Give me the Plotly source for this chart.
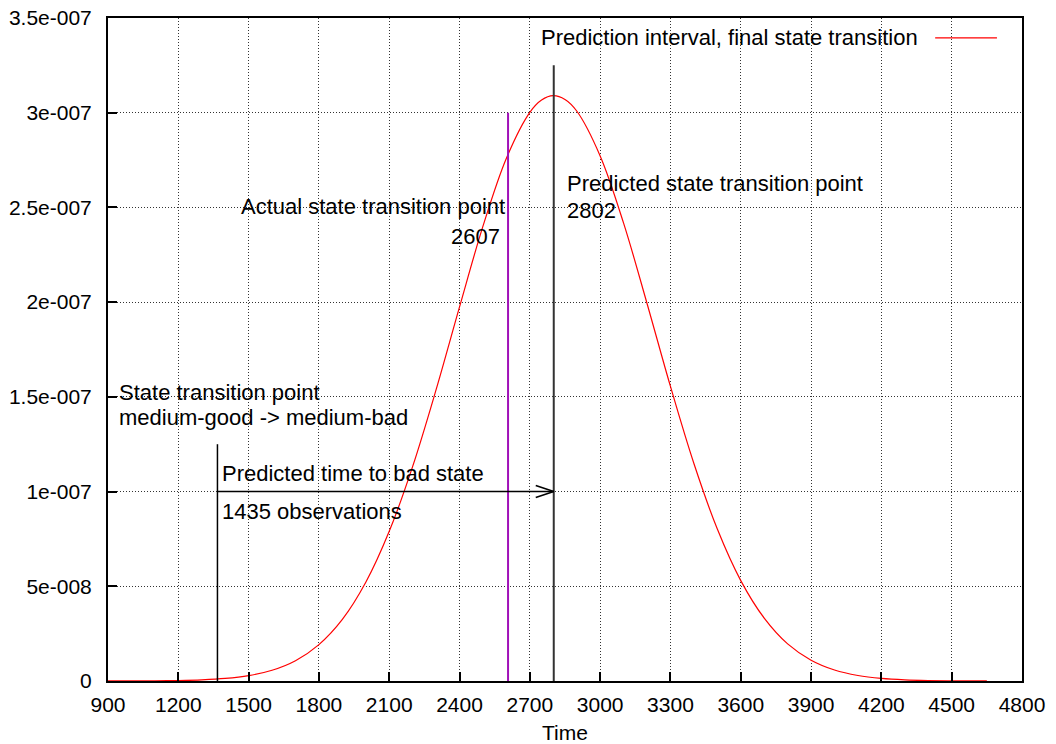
import plotly.graph_objects as go

# ---- data ----
time_x = [900, 1000, 1100, 1200, 1300, 1400, 1500, 1600, 1700, 1800, 1900, 2000,
          2100, 2200, 2300, 2400, 2500, 2600, 2700, 2750, 2800, 2850, 2900, 3000,
          3100, 3200, 3300, 3400, 3500, 3600, 3700, 3800, 3900, 4000, 4100, 4200,
          4300, 4400, 4500, 4600, 4650]
density_y = [1.4e-11, 3.9e-11, 1.0e-10, 2.5e-10, 6.0e-10, 1.34e-9, 2.83e-9, 5.66e-9,
             1.07e-8, 1.92e-8, 3.25e-8, 5.21e-8, 7.90e-8, 1.133e-7, 1.538e-7, 1.975e-7,
             2.401e-7, 2.760e-7, 3.002e-7, 3.067e-7, 3.090e-7, 3.070e-7, 3.009e-7,
             2.772e-7, 2.417e-7, 1.993e-7, 1.555e-7, 1.148e-7, 8.02e-8, 5.30e-8,
             3.32e-8, 1.96e-8, 1.10e-8, 5.82e-9, 2.91e-9, 1.38e-9, 6.2e-10, 2.6e-10,
             1.1e-10, 4.0e-11, 2.4e-11]
series_name = "Prediction interval, final state transition"

state_change_x = 1367          # medium-good -> medium-bad
actual_x = 2607                # actual state transition
predicted_x = 2802             # predicted state transition
marker_tops = [1.25e-7, 3.0e-7, 3.25e-7]
arrow_y = 1.0e-7
observations = 1435

x_ticks = [900, 1200, 1500, 1800, 2100, 2400, 2700, 3000, 3300, 3600, 3900, 4200, 4500, 4800]
y_ticks = [0, 5e-8, 1e-7, 1.5e-7, 2e-7, 2.5e-7, 3e-7, 3.5e-7]
y_tick_labels = ["0", "5e-008", "1e-007", "1.5e-007", "2e-007", "2.5e-007", "3e-007", "3.5e-007"]

FONT = "Liberation Sans, Arial, Helvetica, sans-serif"
FS = 21
AFS = 22
PURPLE = "#a010b8"

fig = go.Figure()
fig.add_trace(go.Scatter(x=time_x, y=density_y, mode="lines", name=series_name,
                         line=dict(color="#ff0000", width=1.2, shape="spline"),
                         showlegend=False, hoverinfo="x+y"))

shapes = [
    dict(type="line", xref="x", yref="y", x0=state_change_x, x1=state_change_x,
         y0=0, y1=marker_tops[0], line=dict(color="black", width=1.5)),
    dict(type="line", xref="x", yref="y", x0=actual_x, x1=actual_x,
         y0=0, y1=marker_tops[1], line=dict(color=PURPLE, width=2)),
    dict(type="line", xref="x", yref="y", x0=predicted_x, x1=predicted_x,
         y0=0, y1=marker_tops[2], line=dict(color="#333333", width=2)),
    # arrow shaft
    dict(type="line", xref="x", yref="y", x0=state_change_x, x1=predicted_x,
         y0=arrow_y, y1=arrow_y, line=dict(color="black", width=1.6)),
    # arrow head (open ">" style), sized in pixels at the arrow tip
    dict(type="line", xref="x", yref="y", xsizemode="pixel", ysizemode="pixel",
         xanchor=predicted_x, yanchor=arrow_y, x0=-18, y0=6, x1=0, y1=0,
         line=dict(color="black", width=1.6)),
    dict(type="line", xref="x", yref="y", xsizemode="pixel", ysizemode="pixel",
         xanchor=predicted_x, yanchor=arrow_y, x0=-18, y0=-6, x1=0, y1=0,
         line=dict(color="black", width=1.6)),
    # key sample line
    dict(type="line", xref="paper", yref="paper", x0=0.905, x1=0.9726, y0=0.970, y1=0.970,
         line=dict(color="#ff0000", width=1.2)),
]

tf = dict(family=FONT, size=AFS, color="black")
annotations = [
    dict(x=0.888, y=0.970, xref="paper", yref="paper", text=series_name,
         xanchor="right", yanchor="middle", showarrow=False, font=tf),
    dict(x=900, y=1.523e-7, xref="x", yref="y", xshift=9, text="State transition point",
         xanchor="left", yanchor="middle", showarrow=False, font=tf),
    dict(x=900, y=1.391e-7, xref="x", yref="y", xshift=9, text="medium-good -> medium-bad",
         xanchor="left", yanchor="middle", showarrow=False, font=tf),
    dict(x=state_change_x, y=arrow_y, yshift=18, xshift=3, xref="x", yref="y",
         text="Predicted time to bad state", xanchor="left", yanchor="middle",
         showarrow=False, font=tf),
    dict(x=state_change_x, y=arrow_y, yshift=-20, xshift=3, xref="x", yref="y",
         text=f"{observations} observations", xanchor="left", yanchor="middle",
         showarrow=False, font=tf),
    dict(x=actual_x, y=2.5e-7, yshift=1, xshift=-1, xref="x", yref="y",
         text="Actual state transition point", xanchor="right", yanchor="middle",
         showarrow=False, font=tf),
    dict(x=actual_x, y=2.5e-7, yshift=-29, xshift=-6, xref="x", yref="y",
         text=str(actual_x), xanchor="right", yanchor="middle",
         showarrow=False, font=tf),
    dict(x=predicted_x, y=2.5e-7, yshift=24, xshift=11, xref="x", yref="y",
         text="Predicted state transition point", xanchor="left", yanchor="middle",
         showarrow=False, font=tf),
    dict(x=predicted_x, y=2.5e-7, yshift=-3, xshift=11, xref="x", yref="y",
         text=str(predicted_x), xanchor="left", yanchor="middle",
         showarrow=False, font=tf),
]

axis_common = dict(showline=True, linecolor="black", linewidth=2, mirror=True,
                   ticks="inside", ticklen=9, tickwidth=1.5, tickcolor="black",
                   showgrid=True, gridcolor="#333333", gridwidth=1, griddash="1px,2px",
                   zeroline=False, tickfont=dict(family=FONT, size=FS, color="black"))

fig.update_layout(
    width=1056, height=744,
    margin=dict(l=108, r=34, t=18, b=63, autoexpand=False),
    paper_bgcolor="white", plot_bgcolor="white",
    font=dict(family=FONT, size=FS, color="black"),
    shapes=shapes, annotations=annotations,
    xaxis=dict(range=[900, 4800], tickvals=x_ticks, ticktext=[str(v) for v in x_ticks],
               ticklabelstandoff=4,
               title=dict(text="Time", font=dict(family=FONT, size=FS), standoff=18),
               **axis_common),
    yaxis=dict(range=[0, 3.5e-7], tickvals=y_ticks, ticktext=y_tick_labels,
               ticklabelstandoff=10, **axis_common),
)

fig.write_html("out.html")
